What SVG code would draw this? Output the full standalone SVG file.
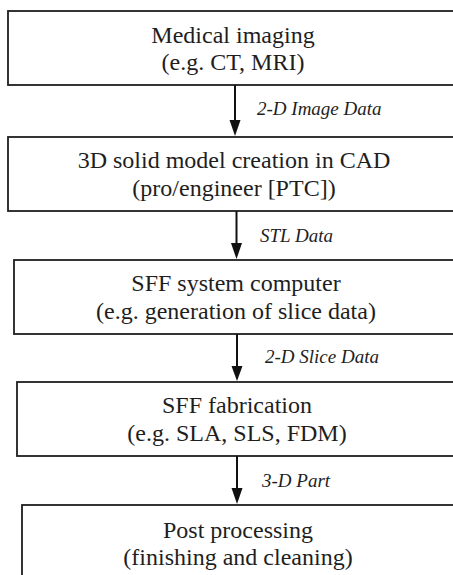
<svg xmlns="http://www.w3.org/2000/svg" width="453" height="575" viewBox="0 0 453 575">
<defs>
<style>
.box{fill:#fff;stroke:#1e1e1e;stroke-width:1.8}
.t{font-family:"Liberation Serif","Times New Roman",serif;font-size:24px;fill:#1e1e1e;text-anchor:middle}
.lbl{font-family:"Liberation Serif","Times New Roman",serif;font-size:19px;font-style:italic;fill:#1e1e1e}
.shaft{stroke:#111;stroke-width:2;fill:none}
.head{fill:#111}
</style>
</defs>
<rect width="453" height="575" fill="#fff"/>
<g id="n1">
<rect class="box" x="8" y="11" width="460" height="74"/>
<text class="t" x="233" y="43">Medical imaging</text>
<text class="t" x="233" y="70">(e.g. CT, MRI)</text>
</g>
<g id="n2">
<rect class="box" x="8" y="137" width="460" height="74"/>
<text class="t" x="234" y="168">3D solid model creation in CAD</text>
<text class="t" x="234" y="196">(pro/engineer [PTC])</text>
</g>
<g id="n3">
<rect class="box" x="14" y="260" width="450" height="74"/>
<text class="t" x="236" y="291">SFF system computer</text>
<text class="t" x="236" y="319">(e.g. generation of slice data)</text>
</g>
<g id="n4">
<rect class="box" x="17" y="382" width="447" height="74"/>
<text class="t" x="237" y="413">SFF fabrication</text>
<text class="t" x="237" y="441">(e.g. SLA, SLS, FDM)</text>
</g>
<g id="n5">
<rect class="box" x="22" y="505" width="442" height="90"/>
<text class="t" x="238" y="538">Post processing</text>
<text class="t" x="238" y="565">(finishing and cleaning)</text>
</g>
<g id="connectors">
<line class="shaft" x1="235" y1="85" x2="235" y2="122"/>
<polygon class="head" points="229.5,120 240.5,120 235,136"/>
<text class="lbl" x="257" y="115">2-D Image Data</text>
<line class="shaft" x1="236.5" y1="211" x2="236.5" y2="245"/>
<polygon class="head" points="231,243 242,243 236.5,259"/>
<text class="lbl" x="260" y="242">STL Data</text>
<line class="shaft" x1="237" y1="334" x2="237" y2="368"/>
<polygon class="head" points="231.5,366 242.5,366 237,381"/>
<text class="lbl" x="265" y="363">2-D Slice Data</text>
<line class="shaft" x1="237" y1="456" x2="237" y2="490"/>
<polygon class="head" points="231.5,488 242.5,488 237,504"/>
<text class="lbl" x="262" y="487">3-D Part</text>
</g>
</svg>
